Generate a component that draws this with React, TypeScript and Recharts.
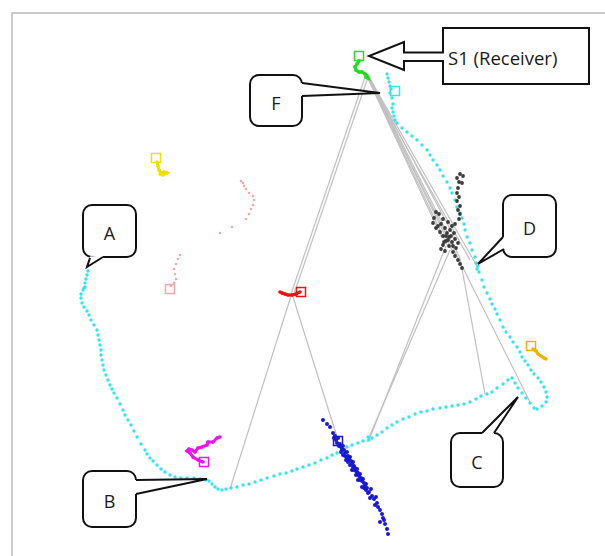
import React from 'react';
import { ScatterChart, Scatter, XAxis, YAxis, ReferenceLine, ReferenceDot } from 'recharts';

type P = { x: number; y: number };
const pts = (arr: number[][]): P[] => arr.map(([x, y]) => ({ x, y }));

// node tracks (plot units: x to the right, y downward)
const cyanTrack = pts([
  [387, 74], [388, 78], [389, 82], [390, 86], [391, 89], [390, 93], [392, 98], [393, 104], [392, 108], [393, 112], [394, 116], [395, 120], [397, 123],
  [402, 128], [407, 132], [412, 136], [417, 140], [422, 145], [427, 150], [430, 155], [433, 160], [437, 165], [440, 170],
  [443, 176], [447, 182], [450, 188], [452, 193], [455, 200], [457, 207], [460, 213], [462, 218], [464, 224], [465, 230],
  [467, 237], [470, 243], [472, 250], [475, 257], [476, 263], [478, 266], [477, 269], [479, 272], [482, 280], [484, 287],
  [487, 293], [490, 299], [492, 304], [495, 309], [497, 314], [500, 320], [503, 327], [506, 332], [510, 337], [513, 342],
  [517, 347], [520, 352], [522, 357], [525, 361], [528, 365], [531, 370], [534, 374], [538, 378], [541, 382], [544, 387],
  [546, 392], [547, 397], [546, 402], [542, 406], [537, 409], [534, 408], [530, 403], [526, 398], [522, 393], [518, 388],
  [515, 383], [512, 378], [508, 380], [503, 384], [497, 388], [492, 392], [487, 394], [481, 396], [476, 399], [470, 402],
  [464, 404], [458, 405], [452, 406], [446, 407], [440, 408], [433, 409], [427, 411], [421, 412], [415, 414], [409, 417],
  [403, 419], [397, 422], [392, 425], [387, 428], [382, 432], [377, 435], [372, 438], [369, 440], [368, 437], [363, 441],
  [358, 443], [352, 445], [347, 447], [342, 450], [337, 453], [332, 455], [327, 458], [321, 460], [315, 463], [309, 465],
  [303, 467], [297, 469], [292, 471], [286, 473], [280, 474], [274, 476], [267, 478], [261, 480], [255, 482], [249, 484],
  [243, 485], [237, 487], [231, 488], [226, 489], [222, 490], [218, 489], [215, 487], [212, 484], [209, 481], [206, 480],
  [200, 479], [194, 478], [187, 478], [181, 478], [175, 477], [170, 475], [165, 472], [161, 469], [157, 465], [153, 461],
  [150, 458], [147, 454], [145, 450], [141, 444], [137, 437], [134, 431], [131, 425], [128, 420], [125, 415], [123, 410],
  [120, 404], [117, 398], [114, 393], [112, 389], [110, 385], [108, 380], [106, 375], [104, 370], [103, 365], [102, 360],
  [101, 355], [101, 350], [100, 345], [99, 340], [98, 335], [97, 330], [94, 325], [91, 320], [89, 315], [87, 311],
  [84, 307], [82, 303], [81, 298], [81, 294], [83, 290], [84, 288], [85, 287], [85, 283], [86, 279], [87, 275], [88, 271],
]);

const blueTrack = pts([
  [323, 420], [327, 424], [330, 427], [333, 433], [335, 436], [336, 440], [338, 438], [340, 444], [341, 447], [343, 446],
  [344, 450], [345, 453], [347, 452], [348, 456], [349, 459], [350, 457], [351, 461], [352, 464], [353, 462], [354, 466],
  [355, 468], [356, 471], [357, 469], [358, 473], [359, 476], [360, 474], [361, 478], [362, 481], [363, 479], [364, 483],
  [365, 486], [366, 484], [367, 488], [369, 492], [371, 489], [372, 496], [374, 499], [376, 497], [377, 503], [378, 507],
  [380, 510], [382, 514], [383, 518], [385, 524], [387, 529], [388, 534], [346, 460], [343, 455], [370, 498], [375, 505],
  [352, 470], [358, 480], [339, 446], [362, 487], [368, 493], [384, 520], [380, 522], [337, 443], [342, 449], [345, 456],
  [348, 462], [350, 465], [354, 470], [356, 475], [360, 480], [364, 488], [366, 490], [334, 438], [341, 452], [347, 458],
  [353, 467], [357, 472],
]);

const blackTrack = pts([
  [460, 174], [463, 176], [457, 178], [459, 182], [462, 183], [458, 188], [457, 193], [459, 197], [457, 201], [460, 206],
  [458, 210], [460, 214], [459, 219], [455, 224], [452, 226], [448, 222], [443, 219], [439, 214], [436, 212], [434, 218],
  [433, 223], [436, 228], [440, 232], [443, 236], [447, 233], [449, 237], [446, 241], [443, 245], [441, 249], [445, 251],
  [449, 246], [452, 242], [455, 239], [458, 243], [456, 248], [453, 252], [455, 256], [458, 260], [460, 264], [462, 268],
  [450, 230], [454, 233], [438, 226], [441, 224], [445, 228], [448, 240], [451, 236], [446, 236], [444, 242], [453, 246],
]);

const greenTrack = pts([[359, 61], [357, 64], [355, 67], [356, 70], [359, 72], [362, 72], [365, 74], [367, 76], [368, 78], [366, 77]]);
const magentaTrack = pts([
  [203, 462], [198, 460], [193, 457], [190, 453], [187, 451], [189, 449], [192, 450], [195, 452], [198, 448], [202, 447],
  [207, 445], [208, 442], [213, 442], [217, 438], [220, 437],
]);
const redTrack = pts([[300, 292], [296, 294], [292, 295], [288, 295], [285, 294], [282, 293], [280, 292]]);
const yellowTrack = pts([[157, 162], [158, 166], [159, 170], [161, 173], [164, 172], [167, 173], [163, 175], [160, 174]]);
const orangeTrack = pts([[533, 349], [536, 351], [538, 354], [541, 356], [544, 358], [546, 359]]);
const pinkTrack = pts([
  [171, 286], [174, 283], [176, 279], [175, 274], [174, 269], [176, 264], [178, 259], [180, 255], [220, 233], [232, 227],
  [246, 219], [249, 214], [251, 209], [253, 205], [254, 200], [253, 196], [249, 193], [246, 189], [244, 186], [243, 183],
  [241, 181],
]);

// start positions of each node (open squares)
const startNames = ['green', 'cyan', 'yellow', 'pink', 'red', 'magenta', 'blue', 'orange'];
const startX = [359, 395, 156, 170, 301, 204, 338, 531];
const startY = [56, 91, 158, 289, 292, 462, 441, 346];
const starts = startNames.map((name, i) => ({ name, x: startX[i], y: startY[i] }));

// radio links (from, to)
const linkFrom = [
  [366, 74], [368, 77], [291, 296], [293, 297], [365, 72], [366, 73], [367, 74], [368, 75], [368, 76], [367, 77],
  [369, 77], [368, 78], [446, 246], [450, 250], [460, 258],
];
const linkTo = [
  [290, 297], [293, 297], [230, 489], [338, 440], [442, 238], [447, 245], [452, 250], [456, 240], [460, 258], [470, 260],
  [478, 268], [531, 404], [369, 440], [367, 442], [485, 394],
];

const calloutLabels = ['A', 'B', 'C', 'D', 'F'];
const calloutX = [87, 207, 518, 478, 380];
const calloutY = [267, 479, 397, 264, 93];
const receiverLabel = 'S1 (Receiver)';

const colors: Record<string, string> = {
  green: '#22dd22',
  cyan: '#33e4ee',
  yellow: '#f0e000',
  pink: '#f4a5a5',
  red: '#ee1111',
  magenta: '#ee11ee',
  blue: '#1818d2',
  orange: '#f2b000',
  black: '#3c3c3c',
};

// callout geometry relative to the tip
const bubbleLayout: Record<string, { dx: number; dy: number; w: number; h: number; base: number[][] }> = {
  A: { dx: -4, dy: -62, w: 53, h: 52, base: [[3, -9], [16, -10]] },
  B: { dx: -124, dy: -8, w: 53, h: 56, base: [[-71, 1], [-71, 15]] },
  C: { dx: -67, dy: 36, w: 52, h: 54, base: [[-36, 36], [-24, 36]] },
  D: { dx: 25, dy: -69, w: 53, h: 62, base: [[25, -27], [26, -15]] },
  F: { dx: -130, dy: -18, w: 52, h: 51, base: [[-78, -10], [-78, 3]] },
};

const FONT = '"Open Sans", sans-serif';

const dotShape = (r: number, color: string) => (props: any) => (
  <circle cx={props.cx} cy={props.cy} r={r} fill={color} />
);

const squareShape = (props: any) => (
  <rect
    x={props.cx - 4.5}
    y={props.cy - 4.5}
    width={9}
    height={9}
    fill="none"
    stroke={colors[props.payload.name]}
    strokeWidth={1.5}
  />
);

const bubbleShape = (label: string) => (props: any) => {
  const { cx, cy } = props;
  const L = bubbleLayout[label];
  const bx = cx + L.dx;
  const by = cy + L.dy;
  const [b1, b2] = L.base;
  return (
    <g>
      <rect x={bx} y={by} width={L.w} height={L.h} rx={9} fill="#fff" stroke="#111" strokeWidth={2} />
      <line x1={cx + b1[0]} y1={cy + b1[1]} x2={cx + b2[0]} y2={cy + b2[1]} stroke="#fff" strokeWidth={3} />
      <polyline
        points={`${cx + b1[0]},${cy + b1[1]} ${cx},${cy} ${cx + b2[0]},${cy + b2[1]}`}
        fill="#fff"
        stroke="#111"
        strokeWidth={2}
        strokeLinejoin="miter"
      />
      <text
        x={bx + L.w / 2}
        y={by + L.h / 2 + 2}
        textAnchor="middle"
        dominantBaseline="central"
        fontSize={18}
        fontFamily={FONT}
        fill="#1a1a1a"
      >
        {label}
      </text>
    </g>
  );
};

const receiverShape = (props: any) => {
  const { cx, cy } = props;
  const arrow = [
    [74, -3.5], [35, -3.5], [35, -14], [0, 0], [35, 14], [35, 5], [74, 5],
  ];
  return (
    <g>
      <rect x={cx + 74} y={cy - 28} width={146} height={56} fill="#fff" stroke="#111" strokeWidth={2} />
      <line x1={cx + 74} y1={cy - 2.5} x2={cx + 74} y2={cy + 4} stroke="#fff" strokeWidth={3} />
      <polyline
        points={arrow.map(([x, y]) => `${cx + x},${cy + y}`).join(' ')}
        fill="#fff"
        stroke="#111"
        strokeWidth={2}
      />
      <text x={cx + 79} y={cy + 1} dominantBaseline="central" fontSize={18.5} fontFamily={FONT} fill="#1a1a1a">
        {receiverLabel}
      </text>
    </g>
  );
};

export default function App() {
  return (
    <div style={{ position: 'absolute', left: 0, top: 0, width: 605, height: 556, overflow: 'hidden', background: '#fff' }}>
      <div
        style={{
          position: 'absolute',
          left: 11,
          top: 12,
          width: 640,
          height: 640,
          borderLeft: '2px solid #cacaca',
          borderTop: '2px solid #cacaca',
        }}
      />
      <div style={{ position: 'absolute', left: 0, top: 0 }}>
        <ScatterChart width={605} height={556} margin={{ top: 0, right: 0, bottom: 0, left: 0 }}>
          <XAxis type="number" dataKey="x" domain={[0, 605]} hide allowDataOverflow />
          <YAxis type="number" dataKey="y" domain={[0, 556]} reversed hide allowDataOverflow />
          {linkFrom.map((f, i) => (
            <ReferenceLine
              key={`l${i}`}
              segment={[{ x: f[0], y: f[1] }, { x: linkTo[i][0], y: linkTo[i][1] }]}
              stroke="#c0c0c0"
              strokeWidth={1.2}
              ifOverflow="visible"
            />
          ))}
          <Scatter data={pinkTrack} shape={dotShape(1.3, colors.pink)} isAnimationActive={false} />
          <Scatter data={cyanTrack} shape={dotShape(1.7, colors.cyan)} isAnimationActive={false} />
          <Scatter data={blackTrack} shape={dotShape(1.9, colors.black)} isAnimationActive={false} />
          <Scatter data={blueTrack} shape={dotShape(2, colors.blue)} isAnimationActive={false} />
          <Scatter
            data={magentaTrack}
            shape={dotShape(1.8, colors.magenta)}
            line={{ stroke: colors.magenta, strokeWidth: 3 }}
            isAnimationActive={false}
          />
          <Scatter
            data={redTrack}
            shape={dotShape(1.8, colors.red)}
            line={{ stroke: colors.red, strokeWidth: 3 }}
            isAnimationActive={false}
          />
          <Scatter
            data={yellowTrack}
            shape={dotShape(1.8, colors.yellow)}
            line={{ stroke: colors.yellow, strokeWidth: 3 }}
            isAnimationActive={false}
          />
          <Scatter
            data={orangeTrack}
            shape={dotShape(1.8, colors.orange)}
            line={{ stroke: colors.orange, strokeWidth: 3 }}
            isAnimationActive={false}
          />
          <Scatter
            data={greenTrack}
            shape={dotShape(1.9, colors.green)}
            line={{ stroke: colors.green, strokeWidth: 3 }}
            isAnimationActive={false}
          />
          <Scatter data={starts} shape={squareShape} isAnimationActive={false} />
          {calloutLabels.map((lab, i) => (
            <ReferenceDot
              key={lab}
              x={calloutX[i]}
              y={calloutY[i]}
              r={0}
              ifOverflow="visible"
              shape={bubbleShape(lab)}
            />
          ))}
          <ReferenceDot x={startX[0] + 10} y={startY[0]} r={0} ifOverflow="visible" shape={receiverShape} />
        </ScatterChart>
      </div>
    </div>
  );
}
